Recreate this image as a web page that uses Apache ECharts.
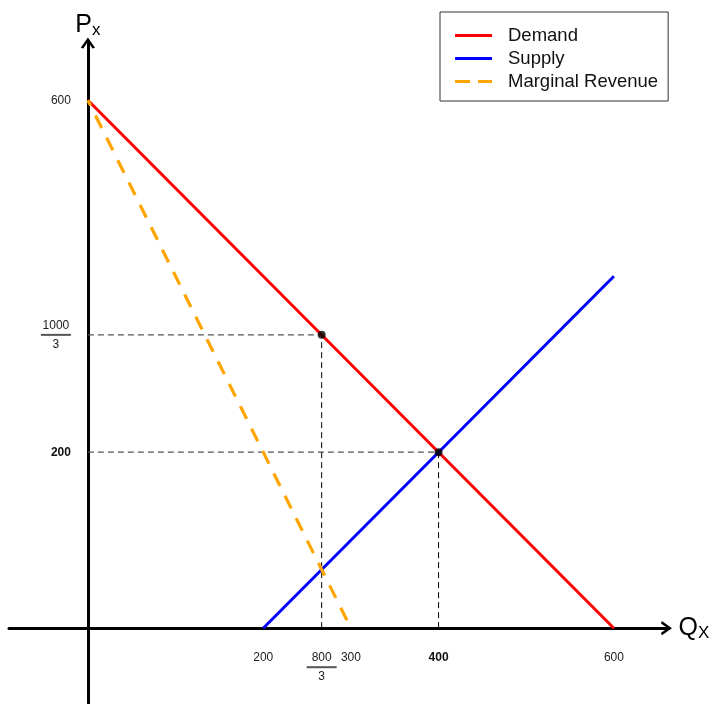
<!DOCTYPE html>
<html>
<head>
<meta charset="utf-8">
<script src="https://cdn.jsdelivr.net/npm/echarts@6/dist/echarts.min.js"></script>
<style>html,body{margin:0;padding:0;background:#fff;}#c{width:709px;height:704px;}</style>
</head>
<body>
<div id="c"></div>
<script>
// ---- data ----
const demandQ = [0, 600];
const demandP = [600, 0];
const supplyQ = [200, 600];
const supplyP = [0, 400];
const mrQ = [0, 300];
const mrP = [600, 0];
const pointQ = [800 / 3, 400];
const pointP = [1000 / 3, 200];
const xTickValues = [200, 800 / 3, 300, 400, 600];
const xTickLabels = ['200', '800/3', '300', '400', '600'];
const xTickBold = [false, false, false, true, false];
const yTickValues = [600, 1000 / 3, 200];
const yTickLabels = ['600', '1000/3', '200'];
const yTickBold = [false, false, true];
const seriesNames = ['Demand', 'Supply', 'Marginal Revenue'];

const zip = (a, b) => a.map((v, i) => [v, b[i]]);
const FONT = 'Liberation Sans, Arial, sans-serif';

// axis ranges / grid geometry
const X_MIN = -90, X_MAX = 660, Y_MIN = -85, Y_MAX = 665;
const GRID = { left: 9, top: 43, width: 657.5, height: 660 };
const xZeroShift = -(0 - X_MIN) / (X_MAX - X_MIN) * GRID.width;
const yZeroShift = -(0 - Y_MIN) / (Y_MAX - Y_MIN) * GRID.height;

function fmtLabel(values, labels, bold) {
  return function (v) {
    let idx = -1;
    values.forEach((t, i) => { if (Math.abs(t - v) < 1e-6) idx = i; });
    if (idx < 0) return '';
    const s = labels[idx];
    if (s.indexOf('/') >= 0) {
      const p = s.split('/');
      return '{n|' + p[0] + '}\n{bar| }\n{n|' + p[1] + '}';
    }
    return bold[idx] ? '{b|' + s + '}' : '{n|' + s + '}';
  };
}
const richLabel = {
  n: { fontSize: 12, fontFamily: FONT, color: '#222', align: 'center', lineHeight: 15 },
  b: { fontSize: 12, fontFamily: FONT, color: '#111', fontWeight: 'bold', lineHeight: 15 },
  bar: { height: 2, lineHeight: 4, fontSize: 1, width: 30, backgroundColor: '#555', align: 'center' }
};

const arrowPath = 'path://M0,10 L7,0 L14,10 L11.5,10.8 L7,4.2 L2.5,10.8 Z';
const solidIcon = 'path://M0,0 H37 V3 H0 Z';
const dashIcon = 'path://M0,0 H15 V3 H0 Z M23,0 H37 V3 H23 Z';

// dashed guide lines built from the marked points
const guideH = pointQ.map((q, i) => [[0, pointP[i]], [q, pointP[i]]]);
const guideV = pointQ.map((q, i) => [[q, 0], [q, pointP[i]]]);

const chart = echarts.init(document.getElementById('c'), null, { renderer: 'canvas' });
const series = [
  { name: seriesNames[0], type: 'line', data: zip(demandQ, demandP), symbol: 'none',
    lineStyle: { color: '#ff0000', width: 3 }, itemStyle: { color: '#ff0000' }, z: 4 },
  { name: seriesNames[1], type: 'line', data: zip(supplyQ, supplyP), symbol: 'none',
    lineStyle: { color: '#0000ff', width: 3 }, itemStyle: { color: '#0000ff' }, z: 4 },
  { name: seriesNames[2], type: 'line', data: zip(mrQ, mrP), symbol: 'none',
    lineStyle: { color: '#ffa500', width: 3.2, type: [14, 11], dashOffset: 8 }, itemStyle: { color: '#ffa500' }, z: 4 }
];
guideH.forEach(d => series.push({ type: 'line', data: d, symbol: 'none', silent: true,
  lineStyle: { color: '#555', width: 1.2, type: [6, 4] }, z: 2 }));
guideV.forEach(d => series.push({ type: 'line', data: d, symbol: 'none', silent: true,
  lineStyle: { color: '#000', width: 1, type: [6, 4] }, z: 2 }));
series.push({ type: 'scatter', data: zip(pointQ, pointP), symbol: 'circle', symbolSize: 8,
  itemStyle: { color: '#000' }, z: 6 });

chart.setOption({
  animation: false,
  backgroundColor: '#fff',
  grid: Object.assign({ containLabel: false, outerBoundsMode: 'none' }, GRID),
  legend: {
    data: [
      { name: seriesNames[0], icon: solidIcon },
      { name: seriesNames[1], icon: solidIcon },
      { name: seriesNames[2], icon: dashIcon }
    ],
    orient: 'vertical', left: 440, top: 12, width: 228,
    backgroundColor: '#fff', borderColor: '#333', borderWidth: 1,
    padding: [13, 10, 9, 15], itemGap: 2, itemWidth: 37, itemHeight: 3,
    textStyle: { fontSize: 18.5, fontFamily: FONT, color: '#111', lineHeight: 21, padding: [0, 0, 0, 11] }
  },
  xAxis: {
    type: 'value', min: X_MIN, max: X_MAX, offset: yZeroShift,
    axisLine: { onZero: false, lineStyle: { color: '#000', width: 3 },
      symbol: ['none', arrowPath], symbolSize: [15, 11] },
    axisTick: { show: false }, splitLine: { show: false },
    axisLabel: { customValues: xTickValues, formatter: fmtLabel(xTickValues, xTickLabels, xTickBold),
      rich: richLabel, margin: 22, hideOverlap: false },
    name: '{m|Q}{s|X}', nameLocation: 'end', nameGap: 12,
    nameTextStyle: { rich: {
      m: { fontSize: 25, fontFamily: FONT, color: '#000' },
      s: { fontSize: 17, fontFamily: FONT, color: '#000', padding: [10, 0, 0, 0] } } }
  },
  yAxis: {
    type: 'value', min: Y_MIN, max: Y_MAX, offset: xZeroShift,
    axisLine: { onZero: false, lineStyle: { color: '#000', width: 3 },
      symbol: ['none', arrowPath], symbolSize: [15, 11] },
    axisTick: { show: false }, splitLine: { show: false },
    axisLabel: { customValues: yTickValues, formatter: fmtLabel(yTickValues, yTickLabels, yTickBold),
      rich: richLabel, margin: 17, hideOverlap: false },
    name: '{m|P}{s|x}', nameLocation: 'end', nameGap: 4,
    nameTextStyle: { align: 'center', rich: {
      m: { fontSize: 25, fontFamily: FONT, color: '#000' },
      s: { fontSize: 17, fontFamily: FONT, color: '#000', padding: [10, 0, 0, 0] } } }
  },
  series: series
});
</script>
</body>
</html>
